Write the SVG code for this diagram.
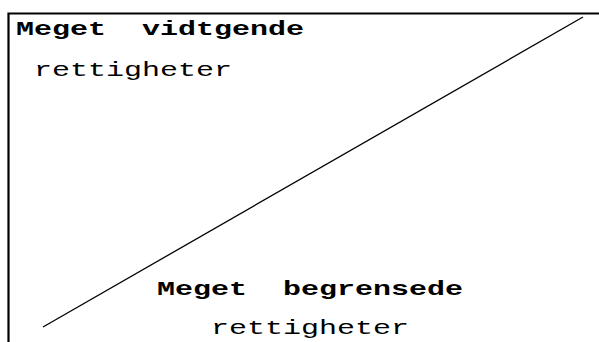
<svg xmlns="http://www.w3.org/2000/svg" width="599" height="342" viewBox="0 0 599 342">
<style>
.t{font-family:"Liberation Mono","Courier New",monospace;font-size:20px;fill:#000;white-space:pre}
.b{font-weight:bold}
.ln{stroke:#000;fill:none}
</style>
<rect width="599" height="342" fill="#fff"/>
<g id="frame">
<path class="ln" stroke-width="2.2" d="M8.5,342 V13.5 H599"/>
</g>
<g id="connectors">
<line class="ln" stroke-width="1.3" x1="43" y1="327" x2="583" y2="17"/>
</g>
<g id="top-label" transform="scale(1.5,1)">
<text class="t b" x="10.67" y="35">Meget  vidtgende</text>
<text class="t" x="22.67" y="76">rettigheter</text>
</g>
<g id="bottom-label" transform="scale(1.5,1)">
<text class="t b" x="104.67" y="295">Meget  begrensede</text>
<text class="t" x="140.67" y="334">rettigheter</text>
</g>
</svg>
